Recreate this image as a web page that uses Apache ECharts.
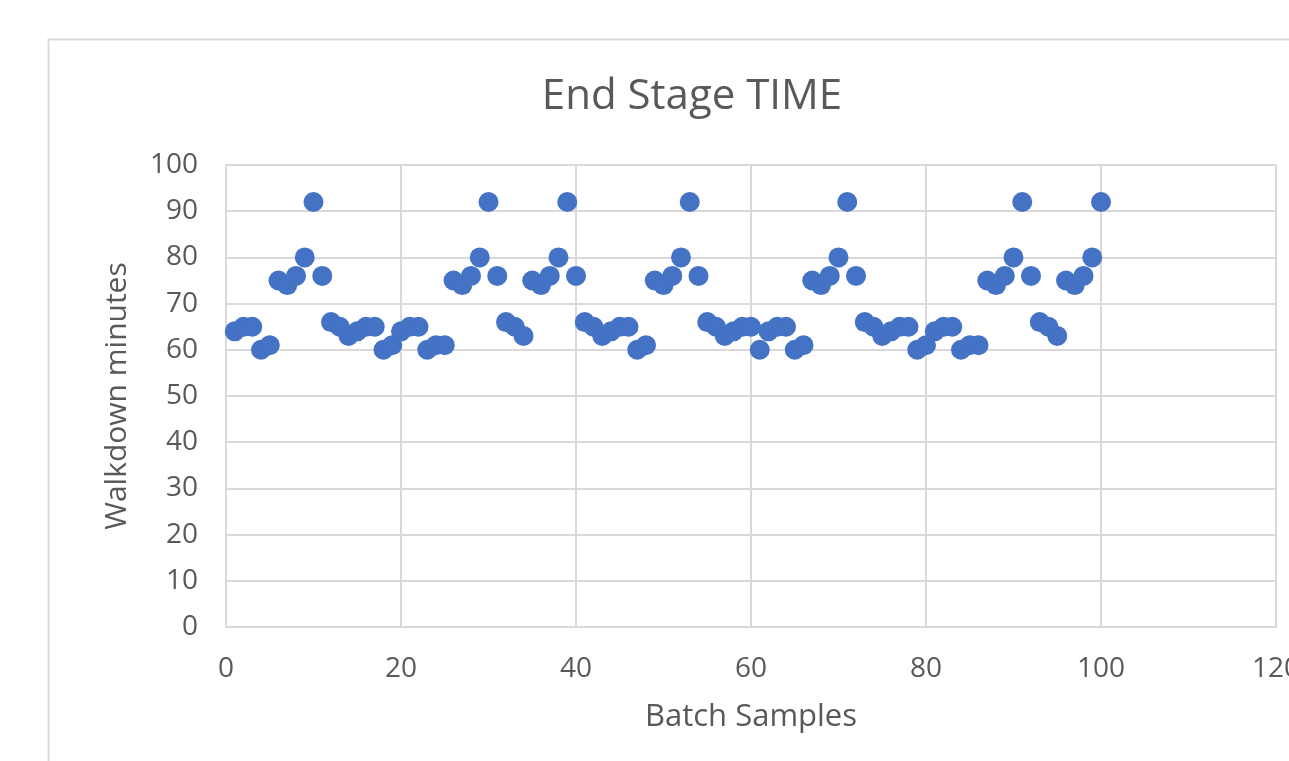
<!DOCTYPE html>
<html>
<head>
<meta charset="utf-8">
<script src="https://cdn.jsdelivr.net/npm/echarts@6/dist/echarts.min.js"></script>
<style>
  html, body { margin: 0; padding: 0; background: #ffffff; overflow: hidden; }
  #chart { width: 1289px; height: 761px; }
</style>
</head>
<body>
<div id="chart"></div>
<script>
const titleText = 'End Stage TIME';
const xAxisName = 'Batch Samples';
const yAxisName = 'Walkdown minutes';

const batchSamples = [
  1, 2, 3, 4, 5, 6, 7, 8, 9, 10,
  11, 12, 13, 14, 15, 16, 17, 18, 19, 20,
  21, 22, 23, 24, 25, 26, 27, 28, 29, 30,
  31, 32, 33, 34, 35, 36, 37, 38, 39, 40,
  41, 42, 43, 44, 45, 46, 47, 48, 49, 50,
  51, 52, 53, 54, 55, 56, 57, 58, 59, 60,
  61, 62, 63, 64, 65, 66, 67, 68, 69, 70,
  71, 72, 73, 74, 75, 76, 77, 78, 79, 80,
  81, 82, 83, 84, 85, 86, 87, 88, 89, 90,
  91, 92, 93, 94, 95, 96, 97, 98, 99, 100
];

const walkdownMinutes = [
  64, 65, 65, 60, 61, 75, 74, 76, 80, 92,
  76, 66, 65, 63, 64, 65, 65, 60, 61, 64,
  65, 65, 60, 61, 61, 75, 74, 76, 80, 92,
  76, 66, 65, 63, 75, 74, 76, 80, 92, 76,
  66, 65, 63, 64, 65, 65, 60, 61, 75, 74,
  76, 80, 92, 76, 66, 65, 63, 64, 65, 65,
  60, 64, 65, 65, 60, 61, 75, 74, 76, 80,
  92, 76, 66, 65, 63, 64, 65, 65, 60, 61,
  64, 65, 65, 60, 61, 61, 75, 74, 76, 80,
  92, 76, 66, 65, 63, 75, 74, 76, 80, 92
];

const points = batchSamples.map((x, i) => [x, walkdownMinutes[i]]);

const chart = echarts.init(document.getElementById('chart'), null, { renderer: 'canvas' });
const fontFamily = '"Open Sans", "Noto Sans", sans-serif';
const gridColor = '#d9d9d9';
const textColor = '#595959';

chart.setOption({
  backgroundColor: '#ffffff',
  animation: false,
  graphic: [{
    type: 'rect',
    left: 46, top: 37,
    shape: { width: 1400, height: 900 },
    style: { fill: 'none', stroke: gridColor, lineWidth: 2 },
    silent: true
  }, {
    type: 'text',
    x: 692, y: 97,
    style: {
      text: titleText,
      fontFamily, fontSize: 42, fill: textColor,
      align: 'center', verticalAlign: 'middle'
    },
    silent: true
  }],
  grid: { left: 226, top: 165, right: 13, bottom: 134, outerBoundsMode: 'none', containLabel: false },
  xAxis: {
    type: 'value',
    min: 0, max: 120, interval: 20,
    name: xAxisName,
    nameLocation: 'middle',
    nameGap: 75,
    nameTextStyle: { fontFamily, fontSize: 31, color: textColor },
    axisLine: { show: true, lineStyle: { color: gridColor, width: 2 } },
    axisTick: { show: false },
    axisLabel: { fontFamily, fontSize: 28, color: textColor, margin: 28 },
    splitLine: { show: true, lineStyle: { color: gridColor, width: 2 } }
  },
  yAxis: {
    type: 'value',
    min: 0, max: 100, interval: 10,
    name: yAxisName,
    nameLocation: 'middle',
    nameGap: 94,
    nameTextStyle: { fontFamily, fontSize: 30, color: textColor },
    axisLine: { show: true, lineStyle: { color: gridColor, width: 2 } },
    axisTick: { show: false },
    axisLabel: { fontFamily, fontSize: 28, color: textColor, margin: 28 },
    splitLine: { show: true, lineStyle: { color: gridColor, width: 2 } }
  },
  series: [{
    type: 'scatter',
    data: points,
    symbol: 'circle',
    symbolSize: 20,
    itemStyle: { color: '#4472c4', opacity: 1 }
  }]
});
</script>
</body>
</html>
